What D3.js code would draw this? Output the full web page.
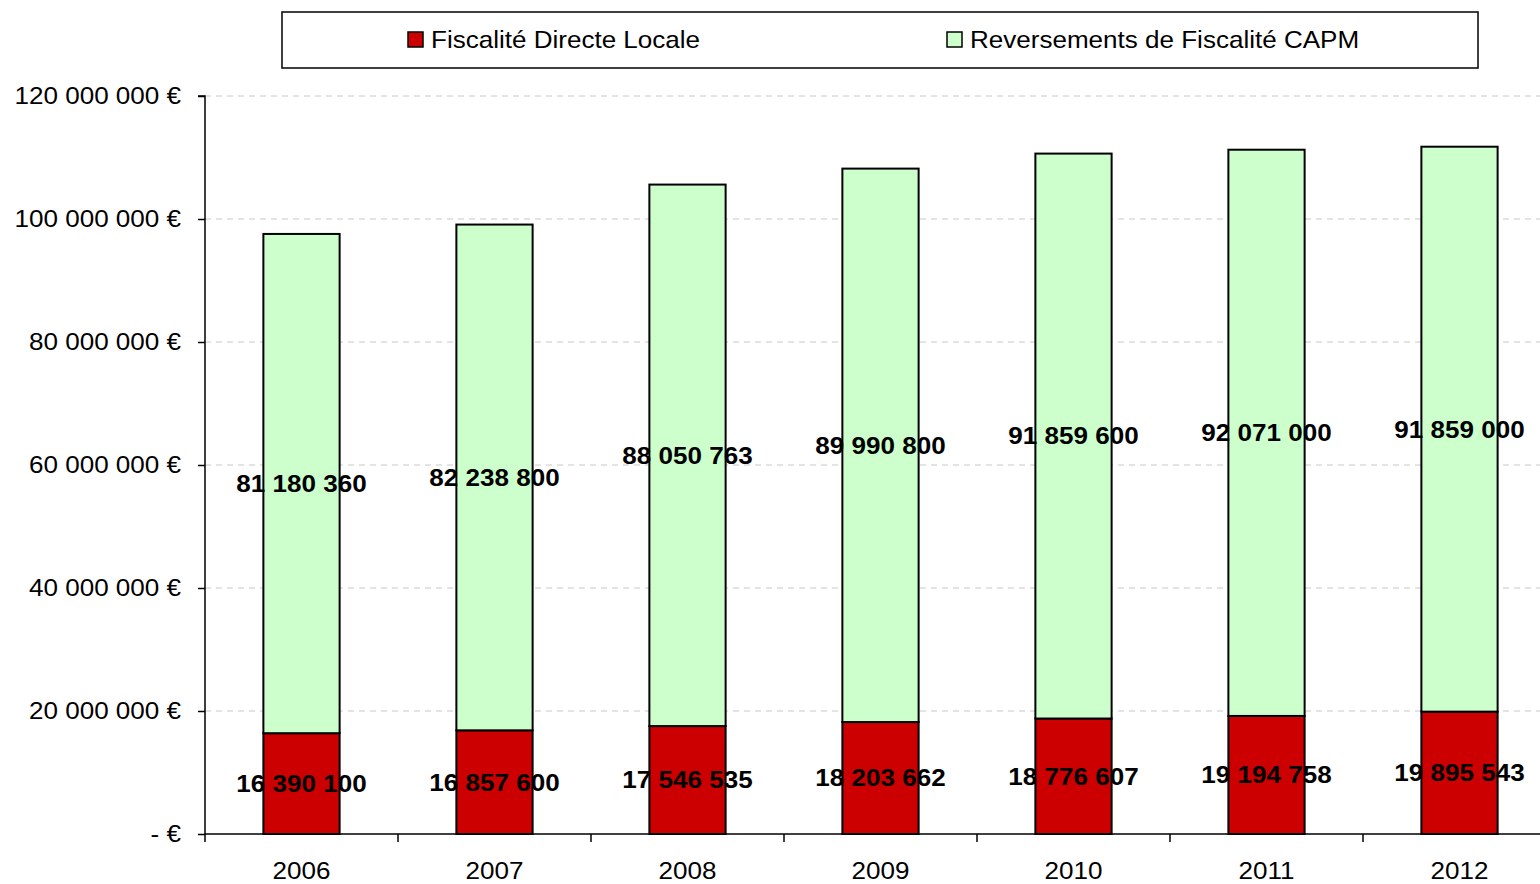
<!DOCTYPE html>
<html>
<head>
<meta charset="utf-8">
<script src="https://cdn.jsdelivr.net/npm/d3@7"></script>
<style>
  body { margin: 0; background: #fff; }
  svg { display: block; font-family: "Liberation Sans", Arial, sans-serif; }
</style>
</head>
<body>
<div class="chart-wrapper"></div>
<script>
// data
const years = ["2006", "2007", "2008", "2009", "2010", "2011", "2012"];
const fiscaliteLocale = [16390100, 16857600, 17546535, 18203662, 18776607, 19194758, 19895543];
const reversementsCapm = [81180360, 82238800, 88050763, 89990800, 91859600, 92071000, 91859000];
const yTicks = [0, 20000000, 40000000, 60000000, 80000000, 100000000, 120000000];
const seriesNames = ["Fiscalité Directe Locale", "Reversements de Fiscalité CAPM"];
const seriesColors = ["#cc0000", "#ccffcc"];

const width = 1540, height = 884;
const plot = { left: 205, top: 96, bottom: 834, right: 1556 };
// the original text is a little wider than Liberation Sans
const stretchX = 1.085;

const svg = d3.select(".chart-wrapper")
    .append("svg")
    .attr("width", width)
    .attr("height", height);

// thousands with spaces, like the original
const fmt = v => d3.format(",")(v).replace(/,/g, " ");

// widen text horizontally while keeping its anchor point in place
function stretch(sel) {
    sel.each(function () {
        const t = d3.select(this);
        const x0 = +t.attr("x") || 0;
        t.attr("x", x0 / stretchX).attr("transform", `scale(${stretchX},1)`);
    });
}

const x = d3.scaleBand()
    .domain(years)
    .range([plot.left, plot.right])
    .padding(0);

const y = d3.scaleLinear()
    .domain([0, 120000000])
    .range([plot.bottom, plot.top]);

const barW = x.bandwidth() * 0.395;

// stack the two series
const rows = years.map((yr, i) => ({ year: yr, fdl: fiscaliteLocale[i], capm: reversementsCapm[i] }));
const stacked = d3.stack().keys(["fdl", "capm"])(rows);

// grid lines
svg.append("g")
    .selectAll("line")
    .data(yTicks.slice(1))
    .enter()
    .append("line")
    .attr("x1", plot.left)
    .attr("x2", width)
    .attr("y1", d => y(d))
    .attr("y2", d => y(d))
    .attr("stroke", "#c8c8c8")
    .attr("stroke-width", 1)
    .attr("stroke-dasharray", "6 5");

// bars
svg.append("g")
    .selectAll("g")
    .data(stacked)
    .enter()
    .append("g")
    .attr("fill", (d, i) => seriesColors[i])
    .selectAll("rect")
    .data(d => d)
    .enter()
    .append("rect")
    .attr("x", d => x(d.data.year) + (x.bandwidth() - barW) / 2)
    .attr("y", d => y(d[1]))
    .attr("width", barW)
    .attr("height", d => y(d[0]) - y(d[1]))
    .attr("stroke", "#000")
    .attr("stroke-width", 2);

// y axis
const yAxis = svg.append("g")
    .attr("transform", `translate(${plot.left},0)`)
    .call(d3.axisLeft(y)
        .tickValues(yTicks)
        .tickSize(7)
        .tickPadding(17)
        .tickFormat(d => d === 0 ? "- €" : fmt(d) + " €"));
yAxis.select(".domain").attr("d", `M-7,${plot.top}H0V${plot.bottom}`).attr("stroke-width", 1.5);
yAxis.selectAll(".tick line").attr("stroke-width", 1.5);
yAxis.selectAll("text")
    .attr("font-size", 24)
    .attr("font-family", "Liberation Sans, Arial, sans-serif")
    .attr("fill", "#000")
    .call(stretch);

// x axis with ticks on category boundaries
const xAxis = svg.append("g")
    .attr("transform", `translate(0,${plot.bottom})`);
xAxis.append("line")
    .attr("x1", plot.left)
    .attr("x2", width)
    .attr("stroke", "#000")
    .attr("stroke-width", 1.5);
xAxis.selectAll("line.tk")
    .data(years)
    .enter()
    .append("line")
    .attr("class", "tk")
    .attr("x1", d => x(d))
    .attr("x2", d => x(d))
    .attr("y1", 0)
    .attr("y2", 8)
    .attr("stroke", "#000")
    .attr("stroke-width", 1.5);
xAxis.selectAll("text")
    .data(years)
    .enter()
    .append("text")
    .attr("x", d => x(d) + x.bandwidth() / 2)
    .attr("y", 45)
    .attr("text-anchor", "middle")
    .attr("font-size", 24)
    .text(d => d)
    .call(stretch);

// value labels at the middle of each segment
svg.append("g")
    .selectAll("g")
    .data(stacked)
    .enter()
    .append("g")
    .selectAll("text")
    .data(d => d)
    .enter()
    .append("text")
    .attr("x", d => x(d.data.year) + x.bandwidth() / 2)
    .attr("y", d => y((d[0] + d[1]) / 2))
    .attr("dy", "0.35em")
    .attr("text-anchor", "middle")
    .attr("font-size", 24)
    .attr("font-weight", "bold")
    .text(d => fmt(d[1] - d[0]))
    .call(stretch);

// legend
const legend = svg.append("g");
legend.append("rect")
    .attr("x", 282)
    .attr("y", 12)
    .attr("width", 1196)
    .attr("height", 56)
    .attr("fill", "#fff")
    .attr("stroke", "#000")
    .attr("stroke-width", 1.5);
const legendX = [408, 947];
seriesNames.forEach((name, i) => {
    legend.append("rect")
        .attr("x", legendX[i])
        .attr("y", 32)
        .attr("width", 15)
        .attr("height", 15)
        .attr("fill", seriesColors[i])
        .attr("stroke", "#000")
        .attr("stroke-width", 1.5);
    legend.append("text")
        .attr("x", legendX[i] + 23)
        .attr("y", 40)
        .attr("dy", "0.35em")
        .attr("font-size", 24)
        .text(name)
        .call(stretch);
});
</script>
</body>
</html>
